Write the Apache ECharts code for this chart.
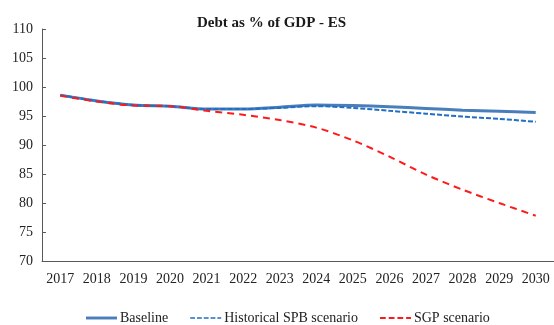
<!DOCTYPE html>
<html><head><meta charset="utf-8">
<script src="https://cdn.jsdelivr.net/npm/echarts@6/dist/echarts.min.js"></script>
<style>html,body{margin:0;padding:0;background:#fff}#c{width:554px;height:325px}</style>
</head><body><div id="c"></div>
<script>
var years = ['2017','2018','2019','2020','2021','2022','2023','2024','2025','2026','2027','2028','2029','2030'];
var baseline = [98.6, 97.6, 96.9, 96.7, 96.2, 96.2, 96.5, 96.9, 96.8, 96.6, 96.3, 96.0, 95.8, 95.6];
var historicalSPB = [98.6, 97.6, 96.9, 96.7, 96.2, 96.2, 96.4, 96.7, 96.4, 95.9, 95.4, 94.9, 94.5, 94.0];
var sgp = [98.5, 97.5, 96.8, 96.7, 95.9, 95.2, 94.3, 93.0, 90.8, 88.0, 84.9, 82.3, 80.0, 77.8];
var yTicks = {min: 70, max: 110, interval: 5};
var font = 'Liberation Serif';
var chart = echarts.init(document.getElementById('c'));
chart.setOption({
  animation: false,
  title: {text: 'Debt as % of GDP - ES', left: 192, top: 11, textStyle: {fontFamily: font, fontSize: 15, fontWeight: 'bold', color: '#1a1a1a'}},
  grid: {left: 42, right: 0, top: 29, bottom: 64},
  legend: {
    top: 306, left: 81, itemGap: 22, itemWidth: 31, itemHeight: 10,
    textStyle: {fontFamily: font, fontSize: 14, color: '#222', padding: [0,0,0,-2]},
    data: [
      {name: 'Baseline', icon: 'path://M0,4L32,4L32,7L0,7Z'},
      {name: 'Historical SPB scenario', icon: 'path://M0,5L5,5L5,6.5L0,6.5ZM7,5L12,5L12,6.5L7,6.5ZM14,5L19,5L19,6.5L14,6.5ZM21,5L26,5L26,6.5L21,6.5ZM28,5L32,5L32,6.5L28,6.5Z'},
      {name: 'SGP scenario', icon: 'path://M0,5L6,5L6,7L0,7ZM9,5L15,5L15,7L9,7ZM18,5L24,5L24,7L18,7ZM27,5L32,5L32,7L27,7Z'}
    ]
  },
  xAxis: {
    type: 'category', data: years, boundaryGap: true,
    axisLine: {lineStyle: {color: '#595959', width: 1}},
    axisTick: {inside: true, length: 4, lineStyle: {color: '#595959'}},
    axisLabel: {fontFamily: font, fontSize: 14, color: '#222', margin: 11}
  },
  yAxis: {
    type: 'value', min: yTicks.min, max: yTicks.max, interval: yTicks.interval,
    axisLine: {show: true, lineStyle: {color: '#595959', width: 1}},
    axisTick: {show: true, inside: true, length: 4, lineStyle: {color: '#595959'}},
    splitLine: {show: false},
    axisLabel: {fontFamily: font, fontSize: 14, color: '#222', margin: 9}
  },
  series: [
    {name: 'Baseline', type: 'line', data: baseline, symbol: 'none', smooth: 0.3, itemStyle: {color: '#4a7ebb'}, lineStyle: {color: '#4a7ebb', width: 3}, z: 2},
    {name: 'Historical SPB scenario', type: 'line', data: historicalSPB, symbol: 'none', smooth: 0.3, itemStyle: {color: '#1f6fc4'}, lineStyle: {color: '#1f6fc4', width: 2, type: [5, 2]}, z: 3},
    {name: 'SGP scenario', type: 'line', data: sgp, symbol: 'none', smooth: 0.3, itemStyle: {color: '#ff1a1a'}, lineStyle: {color: '#ff1a1a', width: 2, type: [7, 5]}, z: 4}
  ]
});
</script></body></html>
